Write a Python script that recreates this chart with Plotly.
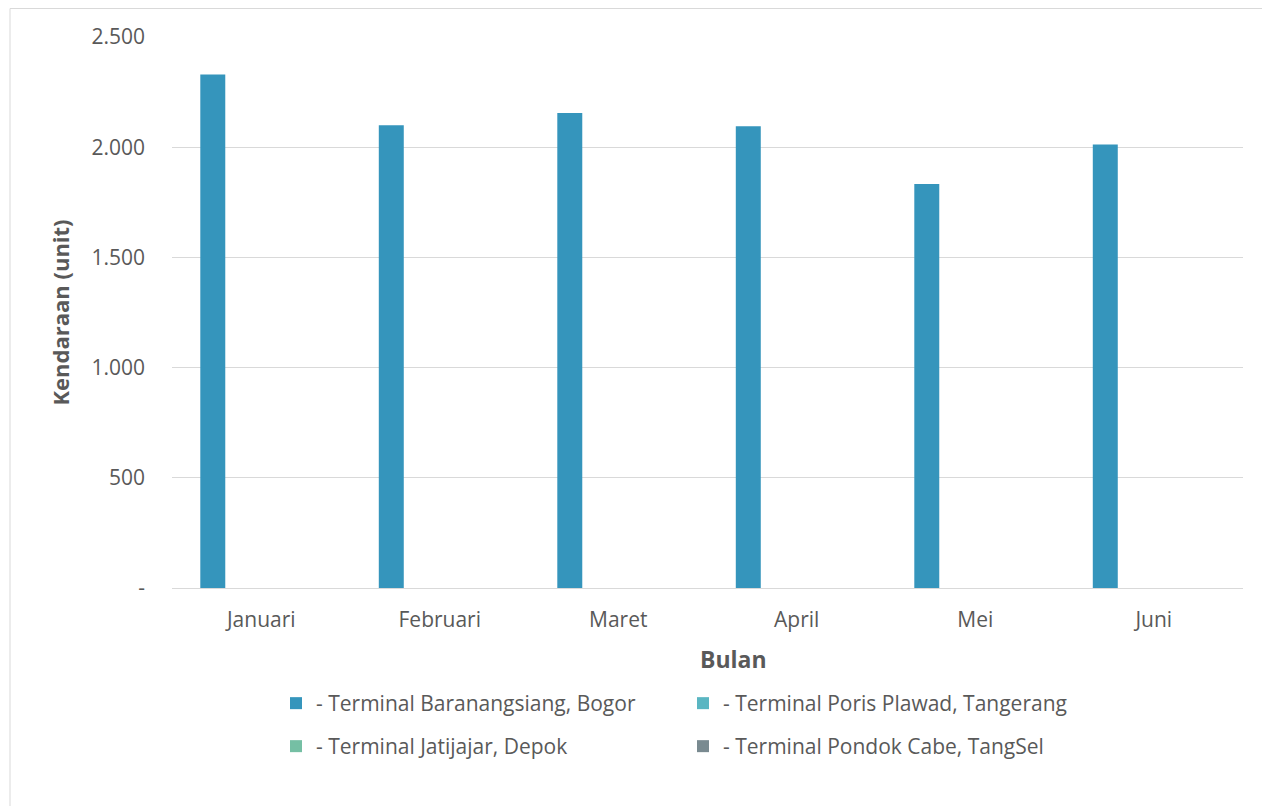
import plotly.graph_objects as go

# Data
months = ["Januari", "Februari", "Maret", "April", "Mei", "Juni"]
series_names = [
    "- Terminal Baranangsiang, Bogor",
    "- Terminal Poris Plawad, Tangerang",
    "- Terminal Jatijajar, Depok",
    "- Terminal Pondok Cabe, TangSel",
]
baranangsiang = [2330, 2100, 2155, 2095, 1833, 2012]
poris_plawad = [0, 0, 0, 0, 0, 0]
jatijajar = [0, 0, 0, 0, 0, 0]
pondok_cabe = [0, 0, 0, 0, 0, 0]
tick_vals = [0, 500, 1000, 1500, 2000, 2500]
tick_text = ["-", "500", "1.000", "1.500", "2.000", "2.500"]

colors = ["#3595BC", "#5AB6C2", "#75BFA4", "#798A90"]
FONT = "Open Sans"
TXT = "#595959"

all_values = [baranangsiang, poris_plawad, jatijajar, pondok_cabe]
# baris legenda: dua baris, dua kolom
legend_rows = ["legend", "legend", "legend2", "legend2"]

fig = go.Figure()
for i in range(4):
    fig.add_trace(go.Bar(
        x=months,
        y=all_values[i],
        name=series_names[i],
        marker_color=colors[i],
        marker_line_width=0,
        legend=legend_rows[i],
    ))

# halaman html punya margin body 8px, jadi semua koordinat digeser 8px
OFF = 8
W, H = 1270, 806
ml, mt = 172 - OFF, 37 - OFF
pw, ph = 1071, 551
mr = W - ml - pw
mb = H - mt - ph


def px(x):
    return (x - OFF - ml) / pw


def py(y):
    return (mt + ph - (y - OFF)) / ph


legend_common = dict(
    orientation="h",
    x=px(276),
    xanchor="left",
    yanchor="top",
    entrywidth=362,
    traceorder="normal",
    font=dict(family=FONT, size=21, color=TXT),
    itemclick=False,
    bgcolor="rgba(0,0,0,0)",
)

fig.update_layout(
    width=W,
    height=H,
    margin=dict(l=ml, r=mr, t=mt, b=mb),
    paper_bgcolor="white",
    plot_bgcolor="white",
    barmode="group",
    bargap=0.276,
    bargroupgap=0.227,
    font=dict(family=FONT, size=21, color=TXT),
    showlegend=True,
    legend=dict(legend_common, y=py(683)),
    legend2=dict(legend_common, y=py(726)),
    xaxis=dict(
        showgrid=False,
        showline=True,
        linecolor="#D9D9D9",
        linewidth=1,
        ticks="",
        ticklabelstandoff=13,
        tickfont=dict(size=21, color=TXT),
    ),
    yaxis=dict(
        title=dict(text="<b>Kendaraan (unit)</b>", font=dict(size=22, color=TXT), standoff=15),
        range=[0, 2500],
        tickvals=tick_vals,
        ticktext=tick_text,
        showgrid=True,
        gridcolor="#D9D9D9",
        gridwidth=1,
        zeroline=False,
        showline=False,
        ticks="",
        ticklabelstandoff=26,
        tickfont=dict(size=21, color=TXT),
    ),
    annotations=[dict(
        text="<b>Bulan</b>", xref="paper", yref="paper",
        x=px(733), y=py(659), xanchor="center", yanchor="middle",
        showarrow=False, font=dict(family=FONT, size=23, color=TXT),
    )],
    shapes=[dict(
        type="rect", xref="paper", yref="paper",
        x0=px(10), x1=px(1300), y0=py(830), y1=py(8.5),
        line=dict(color="#D9D9D9", width=1),
        fillcolor="rgba(0,0,0,0)", layer="below",
    )],
)

fig.write_html("out.html")
